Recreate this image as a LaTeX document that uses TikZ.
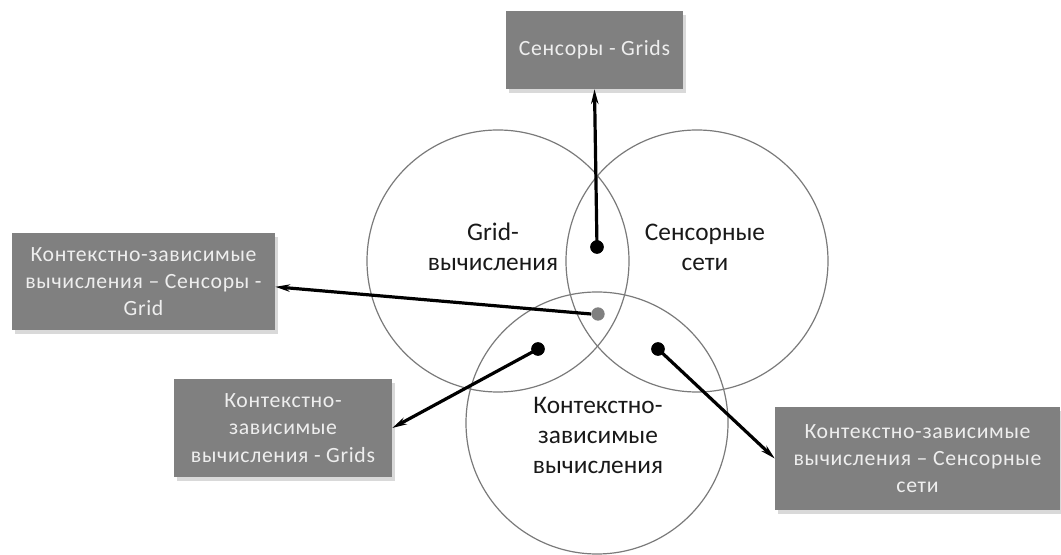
\documentclass[tikz,border=0pt]{standalone}
\usepackage{fontspec}
\setmainfont{Carlito}
\newfontfamily\boxfont[LetterSpace=3]{Carlito}
\usetikzlibrary{arrows.meta,shadows,calc}
\definecolor{boxgrey}{HTML}{808080}
\definecolor{boxtext}{HTML}{EEEEEE}
\definecolor{ringgrey}{HTML}{7A7A7A}
\tikzset{
  ring/.style={draw=ringgrey,line width=0.9pt},
  infobox/.style={fill=boxgrey,draw=none,text=boxtext,align=center,
    font=\boxfont\fontsize{16.3}{20.5}\selectfont,inner sep=0pt,
    drop shadow={shadow xshift=2pt,shadow yshift=-3pt,opacity=0.3,fill=black!50}},
  lbl/.style={align=center,font=\fontsize{19}{22.5}\selectfont,text=black!90},
  dot/.style={circle,fill=black,inner sep=0pt,minimum size=10pt},
  greydot/.style={circle,fill=boxgrey,inner sep=0pt,minimum size=10pt},
  arr/.style={line width=2.4pt,-{Stealth[length=11pt,width=5.5pt]}}
}
\begin{document}
\begin{tikzpicture}[x=0.75pt,y=-0.75pt]
\useasboundingbox (0,0) rectangle (1061,555);
% circles
\draw[ring] (498,261) circle[radius=131];
\draw[ring] (697,261) circle[radius=131];
\draw[ring] (597,423) circle[radius=131];
% circle labels
\node[lbl] (lg) at (493,247) {Grid-\\вычисления};
\node[lbl] (ls) at (705,247) {Сенсорные\\сети};
\node[lbl] (lk) at (598,435) {Контекстно-\\зависимые\\вычисления};
% boxes
\node[infobox,minimum width=132.75pt,minimum height=58.5pt] (bt) at (594.5,50) {Сенсоры - Grids};
\node[infobox,minimum width=197.25pt,minimum height=72.75pt] (bl) at (143.5,281.5) {Контекстно-зависимые\\вычисления – Сенсоры -\\Grid};
\node[infobox,minimum width=163.5pt,minimum height=73.5pt] (bbl) at (283,428) {Контекстно-\\зависимые\\вычисления - Grids};
\node[infobox,minimum width=213.75pt,minimum height=77.25pt] (br) at (917.5,458.5) {Контекстно-зависимые\\вычисления – Сенсорные\\сети};
% dots
\node[dot] (d1) at (597,247) {};
\node[greydot] (d2) at (598,314) {};
\node[dot] (d3) at (538,349) {};
\node[dot] (d4) at (658,349) {};
% arrows
\draw[arr] (d1.center) -- (bt.south);
\draw[arr] (d2.west) -- ([yshift=-4pt]bl.east);
\draw[arr] (d3.center) -- (bbl.east);
\draw[arr] (d4.center) -- (br.west);
\node[dot] at (d1) {};
\node[dot] at (d3) {};
\node[dot] at (d4) {};
\end{tikzpicture}
\end{document}
